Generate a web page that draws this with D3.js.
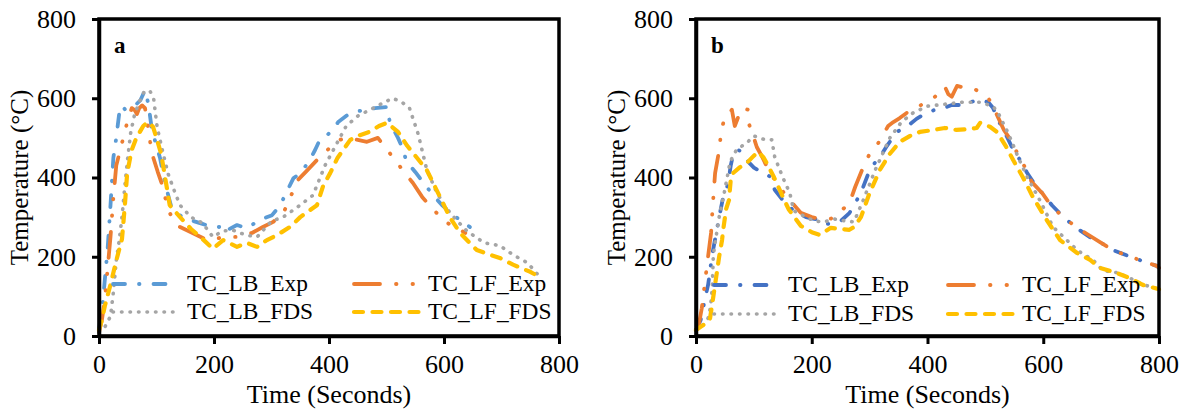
<!DOCTYPE html>
<html>
<head>
<meta charset="utf-8">
<script src="https://cdn.jsdelivr.net/npm/d3@7"></script>
<style>
  body { margin: 0; background: #fff; }
  svg { display: block; }
  text { font-family: "Liberation Serif", "Times New Roman", serif; fill: #000; }
</style>
</head>
<body>
<svg id="chart" width="1184" height="413"></svg>
<script>
// tick labels
const xTicks = [0, 200, 400, 600, 800];
const yTicks = [0, 200, 400, 600, 800];
const seriesNames = ["TC_LB_Exp", "TC_LF_Exp", "TC_LB_FDS", "TC_LF_FDS"];

// panel a  [time (s), temperature (°C)]
const a_LB_Exp = [[0,20],[5,60],[10,140],[15,220],[20,330],[25,450],[30,500],[35,560],[40,582],[45,572],[55,575],[65,585],[72,595],[80,620],[86,585],[92,520],[100,480],[106,450],[115,385],[125,330],[140,305],[160,292],[180,283],[195,276],[210,275],[216,262],[240,280],[257,272],[280,293],[301,305],[315,330],[338,398],[350,411],[365,440],[376,470],[384,495],[395,505],[407,520],[416,540],[437,563],[460,570],[480,575],[501,578],[506,538],[520,500],[527,477],[535,440],[550,414],[565,385],[581,356],[596,331],[616,305],[636,285],[645,275]];
const a_LF_Exp = [[0,10],[5,40],[10,90],[15,170],[20,250],[25,350],[30,430],[37,470],[44,510],[50,545],[57,575],[62,570],[66,560],[70,575],[75,582],[80,575],[84,540],[89,490],[94,452],[102,415],[110,381],[120,320],[130,290],[141,275],[160,262],[188,242],[200,245],[220,250],[240,250],[266,260],[285,275],[303,288],[323,318],[346,394],[360,415],[379,444],[393,462],[410,490],[428,500],[450,495],[466,490],[485,500],[501,470],[515,444],[530,415],[546,386],[562,351],[579,323],[602,288],[620,275],[637,260]];
const a_LB_FDS = [[0,10],[10,22],[20,50],[25,110],[30,190],[35,240],[40,300],[45,380],[50,450],[55,512],[62,560],[70,590],[78,615],[88,620],[95,600],[101,528],[110,470],[120,410],[130,370],[141,330],[160,300],[180,285],[198,250],[215,265],[233,267],[255,255],[275,250],[300,290],[320,300],[345,325],[372,355],[393,430],[414,487],[430,530],[450,555],[470,570],[490,585],[510,600],[525,592],[540,575],[555,510],[570,420],[585,370],[600,330],[620,295],[640,265],[670,235],[697,228],[720,205],[745,185],[765,152]];
const a_LF_FDS = [[0,15],[5,40],[10,75],[20,130],[30,190],[40,245],[45,330],[49,411],[57,470],[65,500],[77,530],[85,540],[94,528],[100,500],[108,460],[115,400],[123,330],[141,300],[160,270],[180,245],[198,220],[216,242],[240,225],[257,235],[275,225],[292,242],[310,255],[332,275],[350,300],[379,330],[390,380],[402,411],[415,450],[437,495],[450,505],[470,515],[487,530],[501,538],[520,515],[536,480],[550,455],[570,419],[590,360],[610,300],[628,260],[657,217],[680,205],[697,197],[720,180],[750,162],[765,150]];

// panel b
const b_LB_Exp = [[0,15],[8,40],[15,90],[21,130],[28,205],[35,260],[40,300],[47,351],[55,381],[60,430],[64,457],[72,470],[79,465],[90,440],[100,425],[107,419],[120,410],[128,402],[136,369],[150,343],[169,316],[190,300],[202,296],[214,293],[221,283],[233,283],[250,290],[265,310],[278,343],[287,369],[297,407],[309,437],[318,452],[330,480],[347,515],[364,528],[381,548],[398,563],[413,571],[433,578],[442,583],[456,583],[473,590],[491,596],[505,590],[513,576],[522,545],[534,513],[548,470],[560,444],[572,412],[586,381],[598,361],[615,330],[635,300],[657,273],[680,250],[698,237],[720,217],[745,203],[770,190],[796,177],[800,172]];
const b_LF_Exp = [[0,15],[5,30],[10,70],[15,130],[21,202],[26,260],[29,330],[33,411],[41,477],[43,515],[50,553],[56,560],[62,571],[67,530],[71,545],[76,565],[81,576],[90,571],[92,533],[100,500],[105,477],[115,450],[125,420],[136,394],[150,365],[162,343],[181,311],[200,300],[215,295],[233,296],[250,315],[265,335],[275,376],[287,419],[300,460],[313,482],[332,530],[341,540],[352,550],[364,563],[381,575],[396,590],[413,604],[425,620],[430,629],[436,610],[442,604],[451,631],[465,626],[479,626],[490,615],[503,604],[512,585],[520,558],[532,520],[546,490],[557,455],[568,427],[580,389],[598,361],[615,326],[635,300],[657,275],[675,258],[698,237],[720,217],[745,203],[770,190],[796,177],[800,172]];
const b_LB_FDS = [[0,15],[10,25],[21,45],[25,73],[28,120],[30,205],[33,235],[40,300],[50,370],[59,440],[70,470],[80,480],[88,487],[93,495],[100,505],[110,500],[120,495],[131,495],[136,452],[150,400],[162,361],[169,316],[190,300],[205,290],[221,288],[240,295],[260,290],[273,288],[289,343],[310,420],[335,500],[355,540],[375,563],[400,580],[430,585],[460,590],[490,590],[513,580],[522,563],[540,510],[557,450],[572,402],[595,340],[617,275],[635,250],[660,215],[686,192],[703,165],[727,160],[750,146],[772,130],[800,118]];
const b_LF_FDS = [[0,15],[10,25],[20,35],[24,42],[30,100],[35,150],[40,200],[45,242],[47,268],[52,320],[57,343],[60,394],[64,411],[75,425],[88,437],[98,452],[107,465],[116,452],[122,437],[135,400],[150,351],[160,320],[181,278],[200,262],[214,255],[221,262],[233,273],[250,270],[265,268],[273,275],[285,300],[300,361],[318,420],[335,460],[352,490],[370,505],[387,515],[410,520],[430,525],[450,520],[470,522],[485,525],[491,538],[508,528],[520,515],[535,480],[548,444],[565,400],[582,351],[605,295],[629,242],[658,210],[681,192],[698,172],[727,159],[750,146],[772,129],[800,118]];

const styles = [
  { width: 3.8, dash: "12,14,0.5,14" },
  { width: 3.8, dash: "26,16,0.5,16,0.5,16" },
  { width: 3.6, dash: "0.5,8" },
  { width: 4.2, dash: "9,9.5" }
];

const svg = d3.select("#chart");
svg.append("rect").attr("width", 1184).attr("height", 413).attr("fill", "#fff");

function drawPanel(opts) {
  const { left, right, top, bottom, label, data, colors, legend } = opts;

  const x = d3.scaleLinear().domain([0, 800]).range([left, right]);
  const y = d3.scaleLinear().domain([0, 800]).range([bottom, top]);
  const g = svg.append("g");

  // series
  const line = d3.line().x(d => x(d[0])).y(d => y(d[1]));
  data.forEach((s, i) => {
    g.append("path")
      .attr("d", line(s))
      .attr("fill", "none")
      .attr("stroke", colors[i])
      .attr("stroke-width", styles[i].width)
      .attr("stroke-dasharray", styles[i].dash)
      .attr("stroke-linecap", "round")
      .attr("stroke-linejoin", "round");
  });

  // frame
  g.append("rect")
    .attr("x", left).attr("y", top)
    .attr("width", right - left).attr("height", bottom - top)
    .attr("fill", "none").attr("stroke", "#000").attr("stroke-width", 3.5);

  const xAxis = g.append("g")
    .attr("transform", `translate(0,${bottom})`)
    .call(d3.axisBottom(x).tickValues(xTicks).tickSize(8).tickSizeOuter(0).tickPadding(11));
  const yAxis = g.append("g")
    .attr("transform", `translate(${left},0)`)
    .call(d3.axisLeft(y).tickValues(yTicks).tickSize(7).tickSizeOuter(0).tickPadding(16));
  [xAxis, yAxis].forEach(a => {
    a.select(".domain").attr("stroke", "#000").attr("stroke-width", 3.5);
    a.selectAll(".tick line").attr("stroke", "#000").attr("stroke-width", 3);
    a.selectAll(".tick text")
      .style("font-family", '"Liberation Serif", serif')
      .style("font-size", "26px")
      .attr("fill", "#000");
  });

  // axis titles
  g.append("text")
    .attr("x", (left + right) / 2).attr("y", 403)
    .attr("text-anchor", "middle")
    .style("font-size", "26px")
    .text("Time (Seconds)");
  g.append("text")
    .attr("transform", `translate(${left - 71},${(top + bottom) / 2}) rotate(-90)`)
    .attr("text-anchor", "middle")
    .style("font-size", "25px")
    .text("Temperature (°C)");

  // panel letter
  g.append("text")
    .attr("x", left + 15).attr("y", 53)
    .style("font-size", "23px").style("font-weight", "bold")
    .text(label);

  // legend
  seriesNames.forEach((name, i) => {
    const col = i % 2, row = Math.floor(i / 2);
    const tx = legend.cols[col];
    const ly = legend.rows[row];
    g.append("line")
      .attr("x1", tx - 74).attr("x2", tx - 8)
      .attr("y1", ly).attr("y2", ly)
      .attr("stroke", colors[i])
      .attr("stroke-width", styles[i].width)
      .attr("stroke-dasharray", styles[i].dash)
      .attr("stroke-linecap", "round");
    g.append("text")
      .attr("x", tx).attr("y", ly + 7)
      .style("font-size", "23.4px")
      .text(name);
  });
}

drawPanel({
  left: 99, right: 559, top: 19, bottom: 336, label: "a",
  data: [a_LB_Exp, a_LF_Exp, a_LB_FDS, a_LF_FDS],
  colors: ["#5B9BD5", "#ED7D31", "#A5A5A5", "#FFC000"],
  legend: { cols: [187, 428], rows: [284, 312] }
});

drawPanel({
  left: 696, right: 1159, top: 19, bottom: 336, label: "b",
  data: [b_LB_Exp, b_LF_Exp, b_LB_FDS, b_LF_FDS],
  colors: ["#4472C4", "#ED7D31", "#A5A5A5", "#FFC000"],
  legend: { cols: [788, 1022], rows: [285, 314] }
});
</script>
</body>
</html>
